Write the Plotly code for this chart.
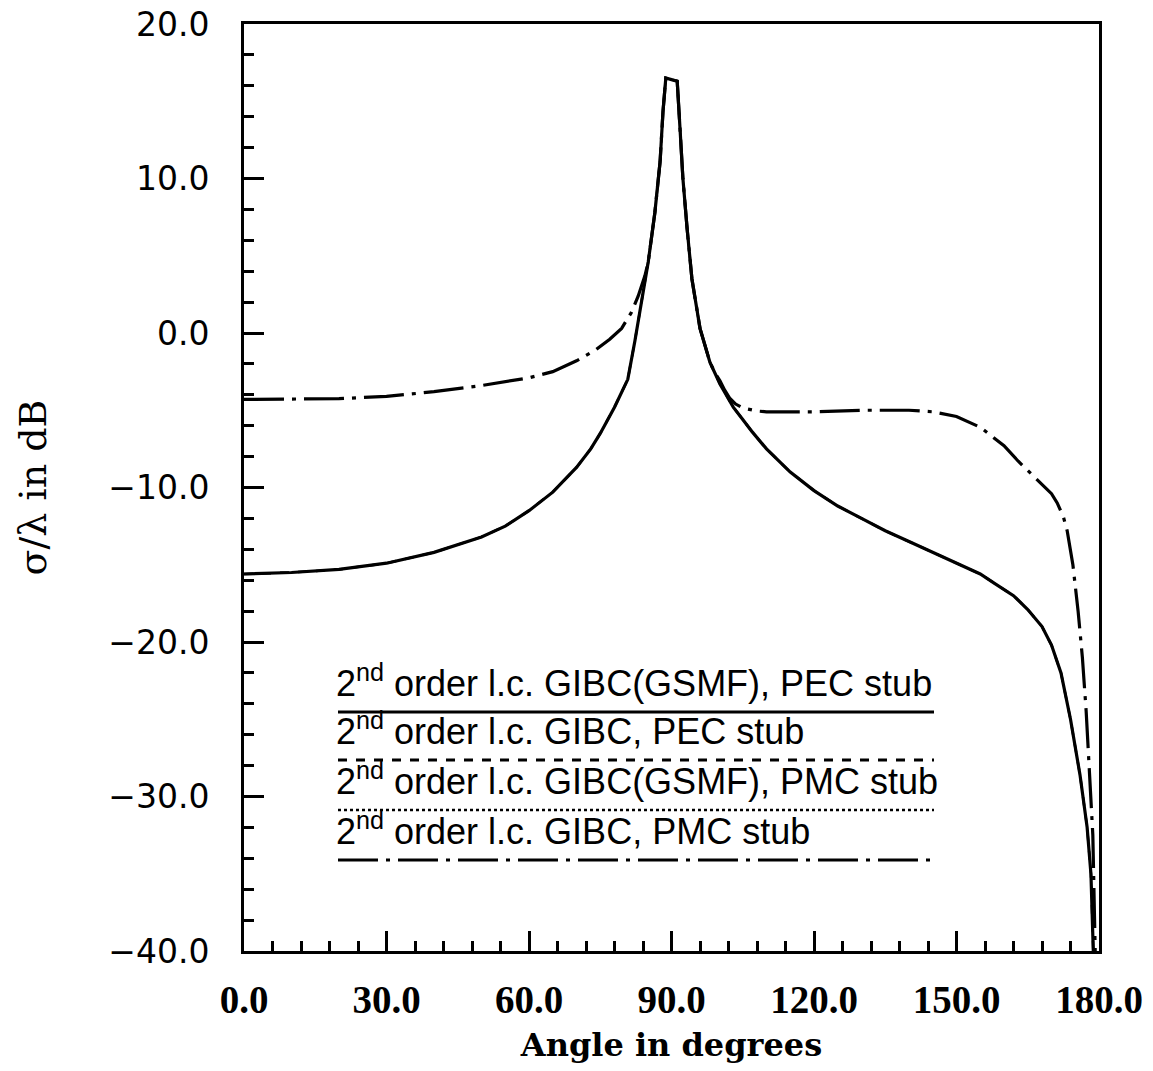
import plotly.graph_objects as go

# ---- data ----
angle_pec = [0, 10, 20, 30, 40, 50, 55, 60, 65, 70, 73, 75, 78, 80.8, 82.3, 84, 85.1, 86.5, 87.6, 88.2,
             88.8, 90, 91.2, 91.8, 92.4, 93.3, 94.3, 96, 98.1, 100.2, 101.5, 103, 105, 107, 110, 115,
             120, 125, 130, 135, 140, 145, 150, 155, 158, 162, 165, 168, 170, 172, 174, 176, 177.5,
             178.3, 178.8]
db_pec = [-15.6, -15.5, -15.3, -14.9, -14.2, -13.2, -12.5, -11.5, -10.3, -8.7, -7.5, -6.5, -4.8, -3.0,
          -0.5, 2.5, 4.6, 7.8, 11.1, 14.3, 16.5, 16.4, 16.3, 13.2, 10.0, 6.7, 3.5, 0.3, -1.9, -3.3,
          -4.0, -4.8, -5.6, -6.4, -7.5, -9.0, -10.2, -11.2, -12.0, -12.8, -13.5, -14.2, -14.9, -15.6,
          -16.2, -17.0, -17.9, -19.0, -20.2, -22.0, -25.0, -28.6, -32.0, -35.0, -40.0]

angle_pmc = [0, 10, 20, 30, 40, 50, 60, 65, 70, 74, 77, 79.5, 81.5, 83, 84.4, 85.1, 86.5, 87.6, 88.2,
             88.8, 90, 91.2, 91.8, 92.4, 93.3, 94.3, 96, 98.1, 99.2, 100.2, 101.2, 102.2, 103.5, 105,
             108, 110, 120, 130, 140, 145, 150, 155, 160, 163, 166, 168, 170, 171.2, 172.5, 173.3,
             174.5, 175.6, 176.5, 177.3, 178, 178.7, 179.2]
db_pmc = [-4.3, -4.3, -4.25, -4.1, -3.8, -3.4, -2.9, -2.5, -1.8, -1.1, -0.4, 0.3, 1.3, 2.4, 3.7, 4.6,
          7.8, 11.1, 14.3, 16.5, 16.4, 16.3, 13.2, 10.0, 6.7, 3.5, 0.3, -1.9, -2.6, -3.1, -3.7, -4.2,
          -4.6, -4.85, -5.05, -5.1, -5.1, -5.0, -5.0, -5.1, -5.4, -6.1, -7.3, -8.3, -9.2, -9.8,
          -10.4, -11.0, -11.9, -12.8, -15.0, -18.0, -21.0, -24.5, -28.2, -32.5, -40.0]

series_names = ["2<sup>nd</sup> order l.c. GIBC(GSMF), PEC stub",
                "2<sup>nd</sup> order l.c. GIBC, PEC stub",
                "2<sup>nd</sup> order l.c. GIBC(GSMF), PMC stub",
                "2<sup>nd</sup> order l.c. GIBC, PMC stub"]
series_dash = ["solid", "dash", "dot", "40px,8px,4px,8px"]

x_tickvals = [0, 30, 60, 90, 120, 150, 180]
x_ticktext = ["0.0", "30.0", "60.0", "90.0", "120.0", "150.0", "180.0"]
y_tickvals = [20, 10, 0, -10, -20, -30, -40]
y_ticktext = ["20.0", "10.0", "0.0", "\u221210.0", "\u221220.0", "\u221230.0", "\u221240.0"]

fig = go.Figure()
# dashed / dotted series coincide with the solid / dash-dot ones; draw them first
fig.add_trace(go.Scatter(x=angle_pec, y=db_pec, mode="lines", name=series_names[1],
                         line=dict(color="black", width=2.5, dash=series_dash[1]), showlegend=False))
fig.add_trace(go.Scatter(x=angle_pmc, y=db_pmc, mode="lines", name=series_names[2],
                         line=dict(color="black", width=1.5, dash=series_dash[2]), showlegend=False,
                         opacity=0.0))
fig.add_trace(go.Scatter(x=angle_pec, y=db_pec, mode="lines", name=series_names[0],
                         line=dict(color="black", width=3.2, dash=series_dash[0]), showlegend=False))
fig.add_trace(go.Scatter(x=angle_pmc, y=db_pmc, mode="lines", name=series_names[3],
                         line=dict(color="black", width=3.2, dash=series_dash[3]), showlegend=False))

# target plot box in page pixels (body margin removed below)
L, R = 244, 1099
T, B = 24, 951
W, H = 1153, 1071


def px_x(p):
    return (p - L) / (R - L)


def px_y(p):
    return (B - p) / (B - T)


legend_line_y = [712, 760, 810, 860]
for i, name in enumerate(series_names):
    fig.add_shape(type="line", xref="paper", yref="paper",
                  x0=px_x(338), x1=px_x(934), y0=px_y(legend_line_y[i]), y1=px_y(legend_line_y[i]),
                  line=dict(color="black", width=3 if i != 2 else 2.5, dash=series_dash[i]))
    fig.add_annotation(text=name, xref="paper", yref="paper", x=px_x(334),
                       y=px_y(legend_line_y[i] - 6), xanchor="left", yanchor="bottom",
                       showarrow=False, font=dict(family="Liberation Sans", size=36, color="black"))

fig.update_layout(
    width=W, height=H,
    margin=dict(l=L, r=W - R, t=T, b=H - B),
    paper_bgcolor="white", plot_bgcolor="white",
    showlegend=False,
)
fig.update_xaxes(
    range=[0, 180], tickvals=x_tickvals, ticktext=x_ticktext,
    ticks="inside", ticklen=20, tickwidth=3, tickcolor="black",
    minor=dict(ticks="inside", ticklen=10, tickwidth=3, tickcolor="black", dtick=6, tick0=0),
    showline=True, linewidth=3, linecolor="black", mirror=True,
    showgrid=False, zeroline=False, ticklabelstandoff=12, automargin=False,
    ticklabeloverflow="allow",
    tickfont=dict(family="Liberation Serif", size=39, color="black", weight="bold"),
    title=dict(text="Angle in degrees", standoff=14,
               font=dict(family="DejaVu Serif", size=32, color="black", weight="bold")),
)
fig.update_yaxes(
    range=[-40, 20], tickvals=y_tickvals, ticktext=y_ticktext,
    ticks="inside", ticklen=20, tickwidth=3, tickcolor="black",
    minor=dict(ticks="inside", ticklen=10, tickwidth=3, tickcolor="black", dtick=2, tick0=0),
    showline=True, linewidth=3, linecolor="black", mirror=True,
    showgrid=False, zeroline=False, ticklabelstandoff=25, automargin=False,
    ticklabeloverflow="allow",
    tickfont=dict(family="DejaVu Sans", size=33, color="black"),
    title=dict(text="\u03c3/\u03bb in dB", standoff=50,
               font=dict(family="DejaVu Serif", size=38, color="black")),
)

fig.write_html("out.html", config={"displayModeBar": False},
               post_script="document.body.style.margin='0';document.body.style.overflow='hidden';")
